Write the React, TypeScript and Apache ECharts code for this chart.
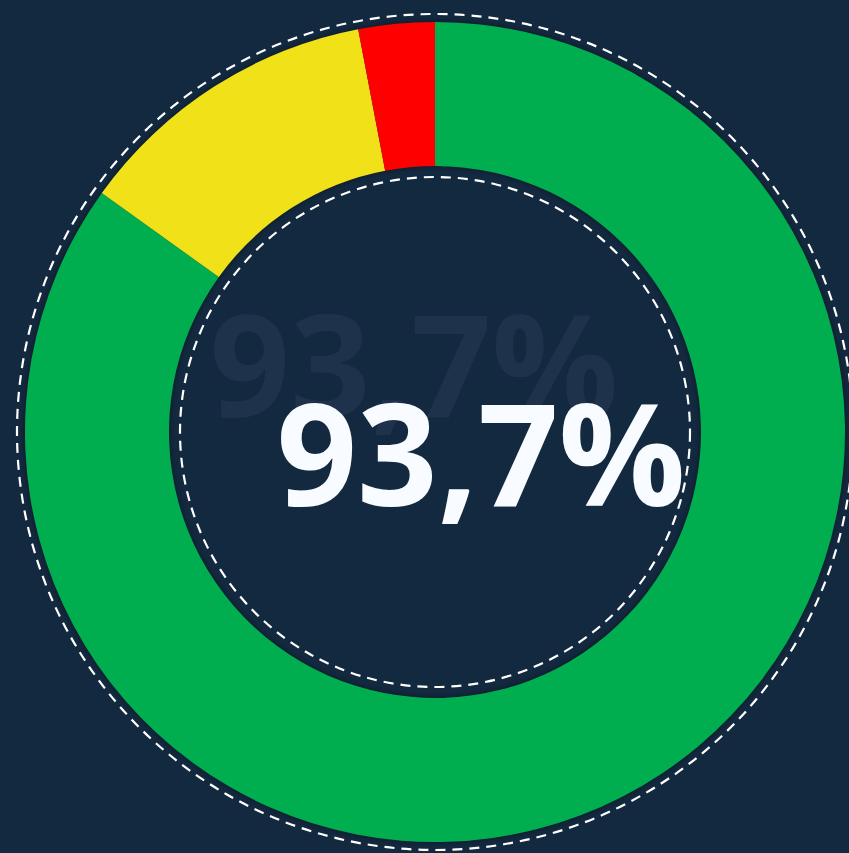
import React, { useEffect, useRef } from "react";
import * as echarts from "echarts";

// Share of each status band, clockwise from 12 o'clock
const categories = ["Verde", "Amarelo", "Vermelho"];
const values = [84.9, 12.1, 3.0];
const colors = ["#00ae4f", "#f0e118", "#ff0000"];
const headline = "93,7%";

const BG = "#13293f";

export default function App() {
  const ref = useRef<HTMLDivElement>(null);

  useEffect(() => {
    if (!ref.current) return;
    const chart = echarts.init(ref.current, undefined, { renderer: "svg" });
    const cx = 435;
    const cy = 432;
    const radius = [266, 410];
    const dash = { fill: "none", stroke: "#ffffff", lineWidth: 2.2, lineDash: [10, 7] };

    chart.setOption({
      animation: false,
      backgroundColor: BG,
      series: [
        {
          // soft shadow under the ring's edges
          type: "pie",
          z: 1,
          center: [cx, cy],
          radius,
          silent: true,
          label: { show: false },
          labelLine: { show: false },
          itemStyle: {
            color: BG,
            shadowBlur: 6,
            shadowColor: "rgba(0,0,0,0.45)",
          },
          data: [{ name: "base", value: 1 }],
        },
        {
          type: "pie",
          z: 2,
          center: [cx, cy],
          radius,
          startAngle: 90,
          clockwise: true,
          silent: true,
          label: { show: false },
          labelLine: { show: false },
          data: categories.map((name, i) => ({
            name,
            value: values[i],
            itemStyle: { color: colors[i] },
          })),
        },
      ],
      graphic: [
        { type: "circle", silent: true, shape: { cx, cy, r: 418 }, style: dash },
        { type: "circle", silent: true, shape: { cx, cy, r: 255 }, style: dash },
        {
          type: "text",
          silent: true,
          x: 414,
          y: 362,
          style: {
            text: headline,
            fill: "#1e324c",
            font: "700 141px 'Open Sans'",
            align: "center",
            verticalAlign: "middle",
          },
        },
        {
          type: "text",
          silent: true,
          x: 481,
          y: 451,
          style: {
            text: headline,
            fill: "#f8fbff",
            font: "700 141px 'Open Sans'",
            align: "center",
            verticalAlign: "middle",
          },
        },
      ],
    });

    return () => chart.dispose();
  }, []);

  return (
    <div
      ref={ref}
      style={{ position: "fixed", left: 0, top: 0, width: 849, height: 853 }}
    />
  );
}
